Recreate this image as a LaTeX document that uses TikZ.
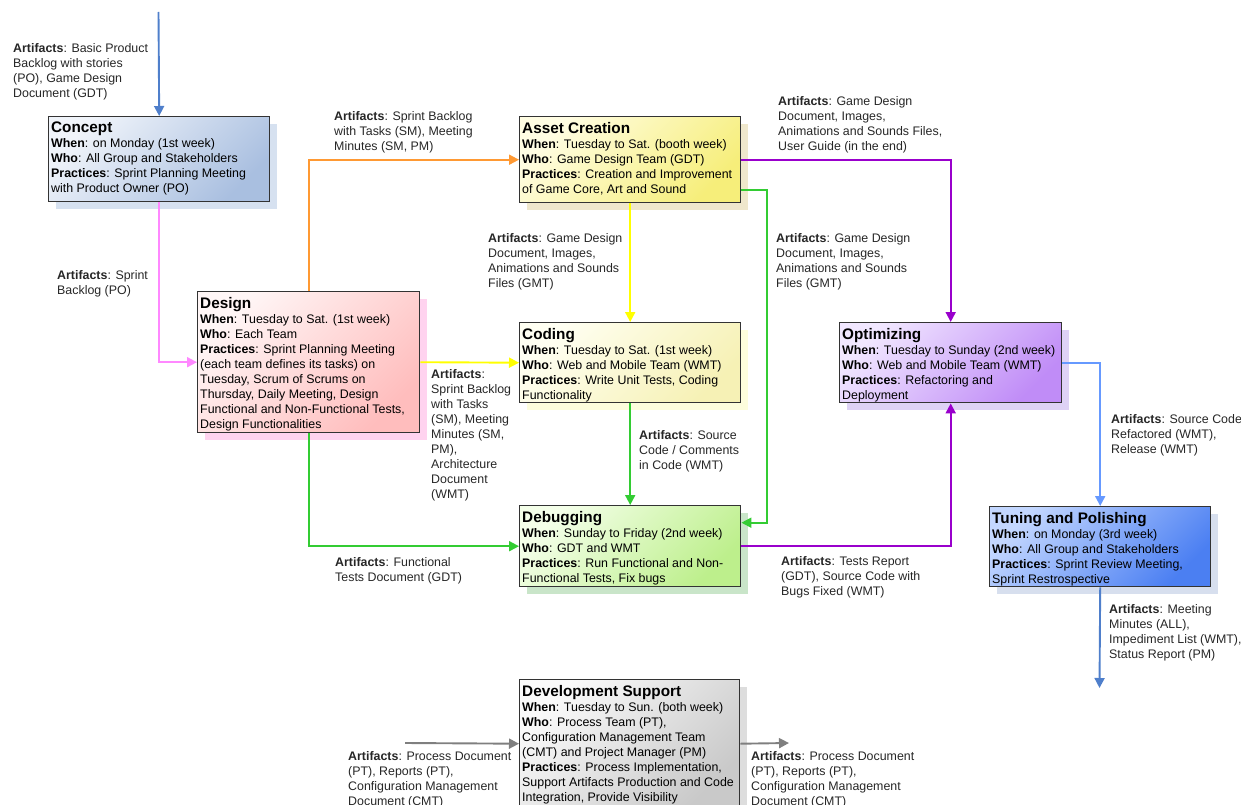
\documentclass[tikz,border=0pt]{standalone}
\usepackage{fontspec}
\setmainfont{Liberation Sans}
\usetikzlibrary{positioning,arrows.meta,shadows}

\definecolor{cptA}{HTML}{F0F4FA}
\definecolor{cptB}{HTML}{A9BFE0}
\definecolor{cptS}{HTML}{D6E1F0}
\definecolor{astA}{HTML}{FFFDE3}
\definecolor{astB}{HTML}{F6EE7A}
\definecolor{astS}{HTML}{EFE7CC}
\definecolor{dsgA}{HTML}{FFF6F6}
\definecolor{dsgB}{HTML}{FFBDBD}
\definecolor{dsgS}{HTML}{FFD3EF}
\definecolor{codA}{HTML}{FFFFF2}
\definecolor{codB}{HTML}{F6F1B5}
\definecolor{codS}{HTML}{FDFDDC}
\definecolor{optA}{HTML}{F1E7FF}
\definecolor{optB}{HTML}{C08CF7}
\definecolor{optS}{HTML}{DED2F5}
\definecolor{dbgA}{HTML}{F4FFE9}
\definecolor{dbgB}{HTML}{BDEF8C}
\definecolor{dbgS}{HTML}{C9E5C9}
\definecolor{tunA}{HTML}{C3D7FF}
\definecolor{tunB}{HTML}{4B7FF2}
\definecolor{tunS}{HTML}{D7DFEE}
\definecolor{supA}{HTML}{FAFAFA}
\definecolor{supB}{HTML}{C9C9C9}
\definecolor{supS}{HTML}{DDDDDD}
\definecolor{inblue}{HTML}{4F7FCB}
\definecolor{pinkln}{HTML}{FF88FF}
\definecolor{orangeln}{HTML}{FF9933}
\definecolor{yellowln}{HTML}{FFFF00}
\definecolor{greenln}{HTML}{33CC33}
\definecolor{purpleln}{HTML}{9900CC}
\definecolor{lightblueln}{HTML}{6699FF}
\definecolor{greyln}{HTML}{7F7F7F}

\newcommand{\phasename}[1]{{\fontsize{15.3}{15}\selectfont\bfseries #1}}

\begin{document}
\begin{tikzpicture}[
    x=1pt,y=-1pt,
    phase/.style n args={3}{draw=black!80,line width=1.4pt,anchor=north west,inner sep=0pt,
      left color=#1,right color=#2,shading angle=45,
      drop shadow={shadow xshift=7pt,shadow yshift=-7pt,fill=#3,opacity=1}},
    info/.style={anchor=north west,inner sep=0pt,align=left,font=\fontsize{12.4}{15}\selectfont},
    art/.style={info,text=black!85},
    link/.style={line width=1.9pt,-{Triangle[width=10pt,length=10pt]}}
    ]
    \useasboundingbox (0,0) rectangle (1241,805);

    \node[phase={cptA}{cptB}{cptS},minimum width=221pt,minimum height=85pt] (concept) at (48,116) {};
    \node[phase={astA}{astB}{astS},minimum width=221pt,minimum height=86pt] (asset) at (519,116) {};
    \node[phase={dsgA}{dsgB}{dsgS},minimum width=222pt,minimum height=141pt] (design) at (197,291) {};
    \node[phase={codA}{codB}{codS},minimum width=221pt,minimum height=80pt] (coding) at (519,322) {};
    \node[phase={optA}{optB}{optS},minimum width=222pt,minimum height=80pt] (optim) at (839,322) {};
    \node[phase={dbgA}{dbgB}{dbgS},minimum width=221pt,minimum height=81pt] (debug) at (519,505) {};
    \node[phase={tunA}{tunB}{tunS},minimum width=221pt,minimum height=80pt] (tuning) at (989,506) {};
    \node[phase={supA}{supB}{supS},minimum width=220pt,minimum height=128pt] (devsup) at (519,679) {};

    \node[info,below right=6pt and 3pt of concept.north west] (concept-txt) {\phasename{Concept}\\
      \textbf{When}: on Monday (1st week)\\
      \textbf{Who}: All Group and Stakeholders\\
      \textbf{Practices}: Sprint Planning Meeting\\
      with Product Owner (PO)};
    \node[info,below right=6pt and 3pt of asset.north west] (asset-txt) {\phasename{Asset Creation}\\
      \textbf{When}: Tuesday to Sat. (booth week)\\
      \textbf{Who}: Game Design Team (GDT)\\
      \textbf{Practices}: Creation and Improvement\\
      of Game Core, Art and Sound};
    \node[info,below right=6pt and 3pt of design.north west] (design-txt) {\phasename{Design}\\
      \textbf{When}: Tuesday to Sat. (1st week)\\
      \textbf{Who}: Each Team\\
      \textbf{Practices}: Sprint Planning Meeting\\
      (each team defines its tasks) on\\
      Tuesday, Scrum of Scrums on\\
      Thursday, Daily Meeting, Design\\
      Functional and Non-Functional Tests,\\
      Design Functionalities};
    \node[info,below right=6pt and 3pt of coding.north west] (coding-txt) {\phasename{Coding}\\
      \textbf{When}: Tuesday to Sat. (1st week)\\
      \textbf{Who}: Web and Mobile Team (WMT)\\
      \textbf{Practices}: Write Unit Tests, Coding\\
      Functionality};
    \node[info,below right=6pt and 3pt of optim.north west] (optim-txt) {\phasename{Optimizing}\\
      \textbf{When}: Tuesday to Sunday (2nd week)\\
      \textbf{Who}: Web and Mobile Team (WMT)\\
      \textbf{Practices}: Refactoring and\\
      Deployment};
    \node[info,below right=6pt and 3pt of debug.north west] (debug-txt) {\phasename{Debugging}\\
      \textbf{When}: Sunday to Friday (2nd week)\\
      \textbf{Who}: GDT and WMT\\
      \textbf{Practices}: Run Functional and Non-\\
      Functional Tests, Fix bugs};
    \node[info,below right=6pt and 3pt of tuning.north west] (tuning-txt) {\phasename{Tuning and Polishing}\\
      \textbf{When}: on Monday (3rd week)\\
      \textbf{Who}: All Group and Stakeholders\\
      \textbf{Practices}: Sprint Review Meeting,\\
      Sprint Restrospective};
    \node[info,below right=6pt and 3pt of devsup.north west] (devsup-txt) {\phasename{Development Support}\\
      \textbf{When}: Tuesday to Sun. (both week)\\
      \textbf{Who}: Process Team (PT),\\
      Configuration Management Team\\
      (CMT) and Project Manager (PM)\\
      \textbf{Practices}: Process Implementation,\\
      Support Artifacts Production and Code\\
      Integration, Provide Visibility};

    \coordinate (start) at (158.5,12);
    \coordinate (finish) at (1099.5,688);
    \coordinate (sup-in) at (405,743);
    \coordinate (sup-out) at (789,743);

    \draw[link,inblue] (start) -- (concept.north);
    \draw[link,pinkln] (concept.south) |- (design.west);
    \draw[link,orangeln] (design.north) |- (asset.west);
    \draw[link,yellowln] (asset.south) -- (coding.north);
    \draw[link,yellowln] (design.east) -- (coding.west);
    \draw[link,greenln] (design.south) |- (debug.west);
    \draw[link,greenln] (coding.south) -- (debug.north);
    \draw[link,greenln] ([yshift=-30pt]asset.east) -| ([xshift=26pt,yshift=23.5pt]debug.east) -- ([yshift=23.5pt]debug.east);
    \draw[link,purpleln] (asset.east) -| (optim.north);
    \draw[link,purpleln] (debug.east) -| (optim.south);
    \draw[link,lightblueln] (optim.east) -| (tuning.north);
    \draw[link,inblue] (tuning.south) -- (finish);
    \draw[link,greyln] (sup-in) -- (devsup.west);
    \draw[link,greyln] (devsup.east) -- (sup-out);

    \node[art] (art-start) at (13,43) {\textbf{Artifacts}: Basic Product\\Backlog with stories\\(PO), Game Design\\Document (GDT)};
    \node[art] (art-concept) at (57,270) {\textbf{Artifacts}: Sprint\\Backlog (PO)};
    \node[art] (art-asset) at (334,111) {\textbf{Artifacts}: Sprint Backlog\\with Tasks (SM), Meeting\\Minutes (SM, PM)};
    \node[art] (art-asset-coding) at (488,233) {\textbf{Artifacts}: Game Design\\Document, Images,\\Animations and Sounds\\Files (GMT)};
    \node[art] (art-design-coding) at (431,369) {\textbf{Artifacts}:\\Sprint Backlog\\with Tasks\\(SM), Meeting\\Minutes (SM,\\PM),\\Architecture\\Document\\(WMT)};
    \node[art] (art-design-debug) at (335,557) {\textbf{Artifacts}: Functional\\Tests Document (GDT)};
    \node[art] (art-coding-debug) at (639,430) {\textbf{Artifacts}: Source\\Code / Comments\\in Code (WMT)};
    \node[art] (art-asset-debug) at (776,233) {\textbf{Artifacts}: Game Design\\Document, Images,\\Animations and Sounds\\Files (GMT)};
    \node[art] (art-asset-optim) at (778,96) {\textbf{Artifacts}: Game Design\\Document, Images,\\Animations and Sounds Files,\\User Guide (in the end)};
    \node[art] (art-debug-optim) at (781,556) {\textbf{Artifacts}: Tests Report\\(GDT), Source Code with\\Bugs Fixed (WMT)};
    \node[art] (art-optim-tuning) at (1111,414) {\textbf{Artifacts}: Source Code\\Refactored (WMT),\\Release (WMT)};
    \node[art] (art-finish) at (1109,604) {\textbf{Artifacts}: Meeting\\Minutes (ALL),\\Impediment List (WMT),\\Status Report (PM)};
    \node[art] (art-sup-in) at (348,751) {\textbf{Artifacts}: Process Document\\(PT), Reports (PT),\\Configuration Management\\Document (CMT)};
    \node[art] (art-sup-out) at (751,751) {\textbf{Artifacts}: Process Document\\(PT), Reports (PT),\\Configuration Management\\Document (CMT)};
  \end{tikzpicture}
\end{document}
